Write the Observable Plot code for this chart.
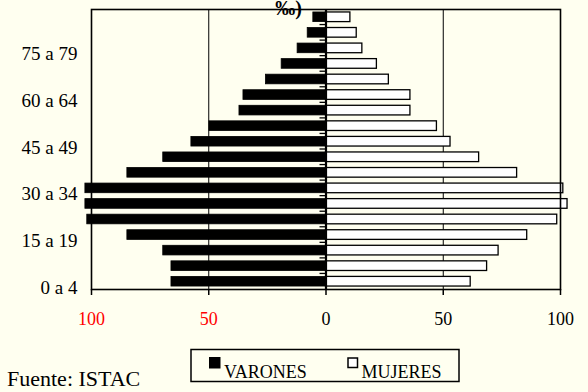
<!DOCTYPE html>
<html>
<head>
<meta charset="utf-8">
<script src="https://cdn.jsdelivr.net/npm/d3@7"></script>
<script src="https://cdn.jsdelivr.net/npm/@observablehq/plot@0.6"></script>
<style>
  html, body { margin: 0; padding: 0; background: #FFFFF0; }
</style>
</head>
<body>
<div id="chart"></div>
<script>
// ---- Data ----
const ages = ["0 a 4","5 a 9","10 a 14","15 a 19","20 a 24","25 a 29","30 a 34","35 a 39","40 a 44",
              "45 a 49","50 a 54","55 a 59","60 a 64","65 a 69","70 a 74","75 a 79","80 a 84","85 y más"];
const varones = [65.9, 65.9, 69.4, 84.7, 101.8, 102.6, 102.6, 84.7, 69.4,
                 57.4, 49.7, 36.9, 35.2, 25.6, 18.9, 12.1, 7.8, 5.4];
const mujeres = [61.7, 68.7, 73.6, 85.8, 98.6, 103.0, 101.2, 81.5, 65.3,
                 53.1, 47.3, 36.0, 36.0, 26.8, 21.7, 15.5, 13.1, 10.4];
const shownAgeLabels = ["0 a 4","15 a 19","30 a 34","45 a 49","60 a 64","75 a 79"];
const xTicks = [-100, -50, 0, 50, 100];
const gridValues = [-50, 50];
const titleFragment = "‰)";
const legendLabels = ["VARONES", "MUJERES"];
const sourceText = "Fuente: ISTAC";

const rows = ages.map((age, i) => ({age, varones: varones[i], mujeres: mujeres[i]}));

const W = 588, H = 392;
const mL = 91, mR = 28, mT = 9, mB = 103;
const serif = "'Liberation Serif', 'Times New Roman', Times, serif";

const svg = Plot.plot({
  width: W, height: H,
  marginLeft: mL, marginRight: mR, marginTop: mT, marginBottom: mB,
  style: {background: "#FFFFF0", fontFamily: serif, fontSize: "18px", color: "black", overflow: "visible"},
  x: {domain: [-100, 100], axis: null, label: null},
  y: {domain: ages.slice().reverse(), paddingInner: 0.38, paddingOuter: 0.19, round: false, axis: null, label: null},
  marks: [
    Plot.ruleX(gridValues, {stroke: "black", strokeWidth: 1}),
    Plot.barX(rows, {y: "age", x1: d => -d.varones, x2: 0, fill: "black", stroke: "black", strokeWidth: 0.8}),
    Plot.barX(rows, {y: "age", x1: 0, x2: "mujeres", fill: "white", stroke: "black", strokeWidth: 1.3}),
    Plot.frame({stroke: "black", strokeWidth: 1.6}),
    Plot.ruleX([0], {stroke: "black", strokeWidth: 2.2}),
    Plot.axisX({ticks: xTicks, tickSize: 6, tickFormat: () => "", label: null, stroke: "black", strokeWidth: 1.5}),
    Plot.text(xTicks, {x: d => d, frameAnchor: "bottom", dy: 35, text: d => String(Math.abs(d)),
                       fill: d => d < 0 ? "red" : "black", fontSize: 18}),
    Plot.text(shownAgeLabels, {y: d => d, frameAnchor: "left", dx: -14, dy: 6, textAnchor: "end",
                               fill: "black", fontSize: 19})
  ]
});

document.getElementById("chart").appendChild(svg);

const s = d3.select(svg);
const xScale = (v) => mL + (v + 100) / 200 * (W - mL - mR);
const step = (H - mT - mB) / ages.length;

// small category ticks on the central axis
const tickG = s.append("g").attr("stroke", "black").attr("stroke-width", 1.3);
for (let k = 1; k < ages.length; k++) {
  const yy = mT + k * step;
  tickG.append("line").attr("x1", xScale(0) - 6).attr("x2", xScale(0)).attr("y1", yy).attr("y2", yy);
}

// title fragment (cut off at the top)
s.append("text")
  .attr("x", 302).attr("y", 14.5)
  .attr("text-anchor", "end")
  .attr("font-family", serif).attr("font-weight", "bold").attr("font-size", 20)
  .attr("fill", "black")
  .text(titleFragment);

// legend
const lg = s.append("g").attr("font-family", serif).attr("font-size", 18).attr("fill", "black")
  .attr("text-anchor", "start");
lg.append("rect").attr("x", 191).attr("y", 349.5).attr("width", 268).attr("height", 32)
  .attr("fill", "none").attr("stroke", "black").attr("stroke-width", 1.5);
lg.append("rect").attr("x", 209.5).attr("y", 357.5).attr("width", 10.5).attr("height", 10.5)
  .attr("fill", "black").attr("stroke", "black").attr("stroke-width", 1);
lg.append("text").attr("x", 224).attr("y", 377.5).attr("text-anchor", "start").text(legendLabels[0]);
lg.append("rect").attr("x", 348).attr("y", 358).attr("width", 9.5).attr("height", 9.5)
  .attr("fill", "white").attr("stroke", "black").attr("stroke-width", 1.5);
lg.append("text").attr("x", 361.5).attr("y", 377.5).attr("text-anchor", "start").text(legendLabels[1]);

// source
s.append("text").attr("x", 7).attr("y", 386).attr("text-anchor", "start")
  .attr("font-family", serif).attr("font-size", 22).attr("fill", "black")
  .text(sourceText);
</script>
</body>
</html>
